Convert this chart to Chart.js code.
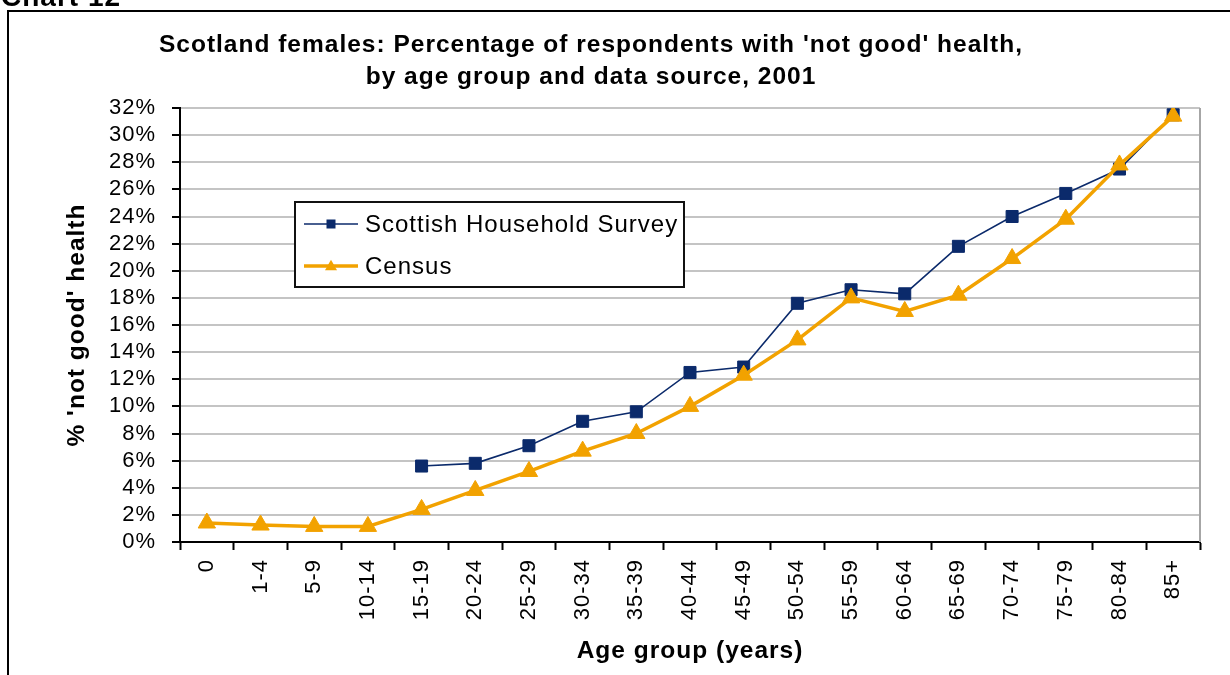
<!DOCTYPE html>
<html>
<head>
<meta charset="utf-8">
<script src="https://cdn.jsdelivr.net/npm/chart.js@4.4.0/dist/chart.umd.min.js"></script>
<style>
  html, body { margin: 0; padding: 0; background: #ffffff; }
  #wrap { position: relative; width: 1230px; height: 675px; overflow: hidden; }
</style>
</head>
<body>
<div id="wrap"><canvas id="c" width="1230" height="675"></canvas></div>
<script>
// Age groups along the x axis
const ageGroups = ['0', '1-4', '5-9', '10-14', '15-19', '20-24', '25-29', '30-34', '35-39',
  '40-44', '45-49', '50-54', '55-59', '60-64', '65-69', '70-74', '75-79', '80-84', '85+'];

// Percentage with 'not good' health (females, 2001)
const shsValues = [null, null, null, null, 5.6, 5.8, 7.1, 8.9, 9.6,
  12.5, 12.9, 17.6, 18.6, 18.3, 21.8, 24.0, 25.7, 27.5, 31.5];
const censusValues = [1.4, 1.25, 1.15, 1.15, 2.4, 3.8, 5.2, 6.7, 8.0,
  10.0, 12.3, 14.9, 18.0, 17.0, 18.2, 20.9, 23.8, 27.8, 31.4];

const seriesNames = ['Scottish Household Survey', 'Census'];

// Y axis range and step (percent)
const yMin = 0, yMax = 32, yStep = 2;

const chartLabel = 'Chart 12';
const titleLines = [
  "Scotland females: Percentage of respondents with 'not good' health,",
  "by age group and data source, 2001"
];
const xTitle = 'Age group (years)';
const yTitle = "% 'not good' health";

const FONT = '"Liberation Sans", Arial, Helvetica, sans-serif';
const NAVY = '#0b2a6b';
const GOLD = '#f2a200';

// Slightly wider letter spacing for all canvas text
const spacing = {
  id: 'spacing',
  beforeUpdate(chart) { chart.ctx.letterSpacing = '1px'; },
  beforeDraw(chart) { chart.ctx.letterSpacing = '1px'; }
};

// Caption, outer frame and the two-line heading
const frame = {
  id: 'frame',
  beforeDraw(chart) {
    const ctx = chart.ctx;
    ctx.save();
    ctx.fillStyle = '#ffffff';
    ctx.fillRect(0, 0, chart.width, chart.height);
    ctx.fillStyle = '#000000';
    ctx.font = 'bold 28px ' + FONT;
    ctx.textAlign = 'left';
    ctx.textBaseline = 'alphabetic';
    ctx.fillText(chartLabel, 1, 6);
    ctx.strokeStyle = '#000000';
    ctx.lineWidth = 2;
    ctx.strokeRect(8, 11, chart.width + 20, chart.height + 20);
    ctx.font = 'bold 24.5px ' + FONT;
    ctx.textAlign = 'center';
    ctx.fillText(titleLines[0], 591, 52);
    ctx.fillText(titleLines[1], 591, 84);
    ctx.restore();
  },
  beforeDatasetsDraw(chart) {
    const { ctx, chartArea: a } = chart;
    ctx.save();
    ctx.strokeStyle = '#a6a6a6';
    ctx.lineWidth = 2;
    ctx.beginPath();
    ctx.moveTo(a.right, a.top);
    ctx.lineTo(a.right, a.bottom);
    ctx.stroke();
    ctx.restore();
  }
};

function drawMarker(ctx, style, x, y, size, color) {
  ctx.fillStyle = color;
  if (style === 'rect') {
    ctx.fillRect(x - size / 2, y - size / 2, size, size);
  } else {
    const h = size * 0.87;
    ctx.beginPath();
    ctx.moveTo(x, y - h * 0.6);
    ctx.lineTo(x + size / 2, y + h * 0.4);
    ctx.lineTo(x - size / 2, y + h * 0.4);
    ctx.closePath();
    ctx.fill();
  }
}

// Boxed legend inside the plot area
const boxedLegend = {
  id: 'boxedLegend',
  afterDraw(chart) {
    const { ctx, chartArea: a } = chart;
    const x = a.left + 115, y = a.top + 94, w = 389, h = 85;
    ctx.save();
    ctx.fillStyle = '#ffffff';
    ctx.fillRect(x, y, w, h);
    ctx.strokeStyle = '#111111';
    ctx.lineWidth = 2;
    ctx.strokeRect(x, y, w, h);
    ctx.font = '24px ' + FONT;
    ctx.textAlign = 'left';
    ctx.textBaseline = 'middle';
    chart.data.datasets.forEach((ds, i) => {
      const cy = y + 22 + i * 42;
      ctx.strokeStyle = ds.borderColor;
      ctx.lineWidth = ds.borderWidth;
      ctx.beginPath();
      ctx.moveTo(x + 9, cy);
      ctx.lineTo(x + 63, cy);
      ctx.stroke();
      drawMarker(ctx, ds.pointStyle, x + 36, cy, ds.pointStyle === 'rect' ? 9 : 12, ds.pointBackgroundColor);
      ctx.fillStyle = '#000000';
      ctx.fillText(ds.label, x + 70, cy + 1);
    });
    ctx.restore();
  }
};

new Chart(document.getElementById('c'), {
  type: 'line',
  data: {
    labels: ageGroups,
    datasets: [
      {
        label: seriesNames[0],
        data: shsValues,
        borderColor: NAVY,
        backgroundColor: NAVY,
        borderWidth: 1.6,
        pointStyle: 'rect',
        pointRadius: 8.5,
        pointBackgroundColor: NAVY,
        pointBorderColor: NAVY,
        pointBorderWidth: 1,
        tension: 0,
        spanGaps: false,
        order: 1
      },
      {
        label: seriesNames[1],
        data: censusValues,
        borderColor: GOLD,
        backgroundColor: GOLD,
        borderWidth: 3.5,
        pointStyle: 'triangle',
        pointRadius: 10,
        pointBackgroundColor: GOLD,
        pointBorderColor: GOLD,
        pointBorderWidth: 1,
        tension: 0,
        order: 0
      }
    ]
  },
  options: {
    responsive: false,
    animation: false,
    devicePixelRatio: 1,
    layout: { padding: { top: 108, right: 30, left: 0, bottom: 0 } },
    plugins: {
      legend: { display: false },
      title: { display: false },
      tooltip: { enabled: false }
    },
    scales: {
      x: {
        type: 'category',
        offset: true,
        afterFit(scale) { scale.height = 133; },
        grid: {
          offset: true,
          drawOnChartArea: false,
          drawTicks: true,
          tickLength: 8,
          tickColor: '#000000',
          tickWidth: 2
        },
        border: { display: true, color: '#000000', width: 2 },
        ticks: {
          autoSkip: false,
          minRotation: 90,
          maxRotation: 90,
          padding: 9,
          color: '#000000',
          font: { family: FONT, size: 22 }
        },
        title: {
          display: true,
          text: xTitle,
          color: '#000000',
          font: { family: FONT, size: 24.5, weight: 'bold' },
          padding: { top: 0, bottom: 9 }
        }
      },
      y: {
        min: yMin,
        max: yMax,
        afterFit(scale) { scale.width = 180; },
        grid: {
          color: '#c4c4c4',
          lineWidth: 2,
          drawTicks: true,
          tickLength: 8,
          tickColor: '#000000',
          tickWidth: 2
        },
        border: { display: true, color: '#000000', width: 2 },
        ticks: {
          stepSize: yStep,
          maxTicksLimit: 40,
          autoSkip: false,
          padding: 16,
          color: '#000000',
          font: { family: FONT, size: 22, lineHeight: 1 },
          callback: (v) => v + '%'
        },
        title: {
          display: true,
          text: yTitle,
          color: '#000000',
          font: { family: FONT, size: 24.5, weight: 'bold' },
          padding: { top: 63, bottom: 0 }
        }
      }
    }
  },
  plugins: [spacing, frame, boxedLegend]
});
</script>
</body>
</html>
